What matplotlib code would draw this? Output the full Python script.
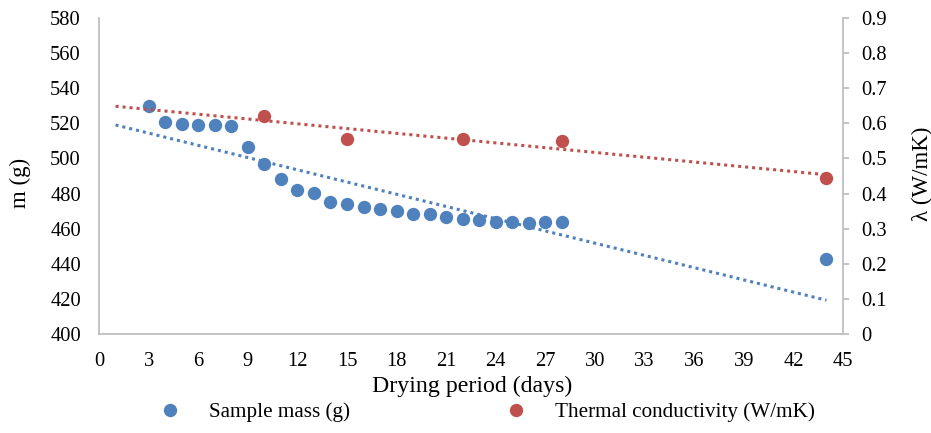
import numpy as np
import matplotlib
matplotlib.use("Agg")
import matplotlib.pyplot as plt
from matplotlib.lines import Line2D

plt.rcParams['font.family'] = ['Liberation Serif', 'DejaVu Serif']

# Sample mass over the drying period
mass_days = [3, 4, 5, 6, 7, 8, 9, 10, 11, 12, 13, 14, 15, 16, 17, 18, 19,
             20, 21, 22, 23, 24, 25, 26, 27, 28, 44]
mass_g = [530.0, 520.6, 519.8, 519.2, 519.0, 518.6, 506.3, 496.8, 488.5,
          482.0, 480.1, 475.2, 474.0, 472.5, 471.0, 469.9, 468.6, 468.4,
          466.8, 465.7, 465.1, 464.0, 463.8, 463.5, 463.7, 463.7, 442.8]

# Thermal conductivity measurements
cond_days = [10, 15, 22, 28, 44]
cond_wmk = [0.621, 0.556, 0.554, 0.550, 0.445]

x_ticks = list(range(0, 46, 3))
mass_ticks = list(range(400, 581, 20))
cond_ticks = [0, 0.1, 0.2, 0.3, 0.4, 0.5, 0.6, 0.7, 0.8, 0.9]

BLUE = '#4F81BD'
RED = '#C0504D'
SPINE = '#BFBFBF'
FS = 14.8

fig = plt.figure(figsize=(9.31, 4.33), dpi=100)
ax = fig.add_axes([99 / 931, 1 - 334 / 433, (843 - 99) / 931, (334 - 18) / 433])
ax2 = ax.twinx()

# linear trendlines spanning day 1 to day 44
trend_x = np.array([1, 44])
bm, bc = np.polyfit(mass_days, mass_g, 1)
rm, rc = np.polyfit(cond_days, cond_wmk, 1)

ax.plot(mass_days, mass_g, 'o', color=BLUE, markersize=9.6, zorder=2,
        markeredgewidth=0)
ax.plot(trend_x, bm * trend_x + bc, color=BLUE, lw=2.2,
        linestyle=(0, (1, 1.3)), zorder=3)

ax2.plot(cond_days, cond_wmk, 'o', color=RED, markersize=9.6, zorder=2,
         markeredgewidth=0)
ax2.plot(trend_x, rm * trend_x + rc, color=RED, lw=2.2,
         linestyle=(0, (1, 1.3)), zorder=3)

ax.set_xlim(0, 45)
ax.set_ylim(400, 580)
ax2.set_ylim(0, 0.9)
ax.set_xticks(x_ticks)
ax.set_yticks(mass_ticks)
ax2.set_yticks(cond_ticks)
ax2.set_yticklabels(['0' if v == 0 else f'{v:.1f}' for v in cond_ticks])

for a in (ax, ax2):
    a.spines['top'].set_visible(False)
    for s in ('left', 'bottom', 'right'):
        a.spines[s].set_color(SPINE)
        a.spines[s].set_linewidth(1.3)
ax.spines['right'].set_visible(False)
ax2.spines['left'].set_visible(False)
ax2.spines['bottom'].set_visible(False)

ax.tick_params(axis='x', length=0, pad=13, labelsize=FS)
ax.tick_params(axis='y', length=0, pad=13, labelsize=FS)
ax2.tick_params(axis='y', length=4.5, width=1.3, color=SPINE, pad=8.5,
                labelsize=FS)

fig.text(20 / 931, 1 - 183 / 433, 'm (g)', rotation=90, ha='center',
         va='center', fontsize=16.5)
fig.text(922 / 931, 1 - 174 / 433, 'λ (W/mK)', rotation=90, ha='center',
         va='center', fontsize=16.5)
fig.text(472 / 931, 1 - 386 / 433, 'Drying period (days)', ha='center',
         va='center', fontsize=17.2)

handles = [
    Line2D([], [], marker='o', linestyle='none', color=BLUE, markersize=9.6,
           markeredgewidth=0),
    Line2D([], [], marker='o', linestyle='none', color=RED, markersize=9.6,
           markeredgewidth=0),
]
fig.legend(handles, ['Sample mass (g)', 'Thermal conductivity (W/mK)'],
           loc='center', bbox_to_anchor=(487 / 931, 1 - 412 / 433), ncol=2,
           frameon=False, fontsize=15.2, handlelength=1.0, handletextpad=1.35,
           columnspacing=7.35, borderpad=0, borderaxespad=0)

fig.savefig('out.png', dpi=100)
